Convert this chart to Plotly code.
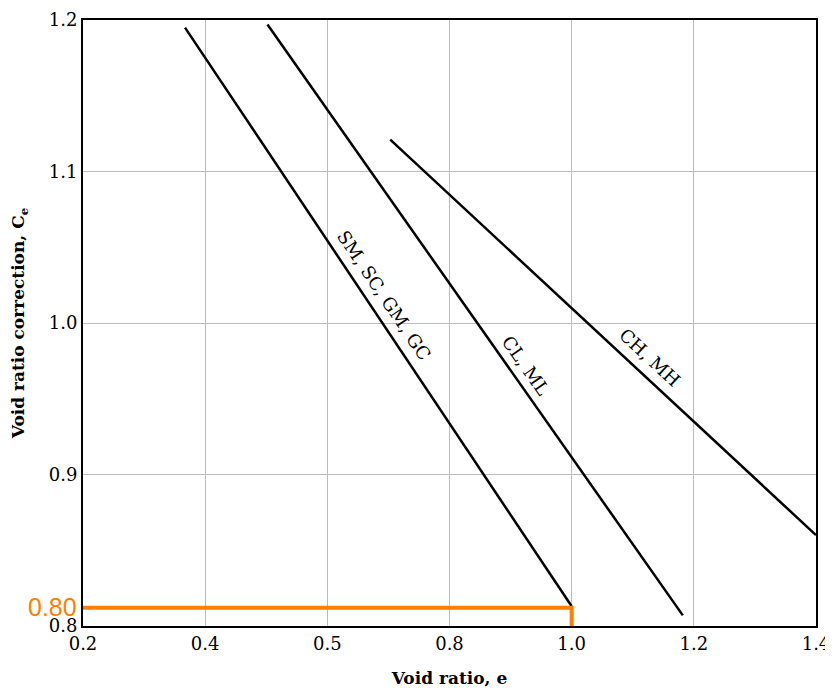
import plotly.graph_objects as go

# Curve end points (void ratio e, correction Ce)
sm_x = [0.367, 1.0]
sm_y = [1.195, 0.813]
cl_x = [0.502, 1.182]
cl_y = [1.197, 0.807]
ch_x = [0.703, 1.4]
ch_y = [1.121, 0.860]

# Highlight (orange) path
hl_x = [0.2, 1.0, 1.0]
hl_y = [0.812, 0.812, 0.8]
hl_label = "0.80"

x_tickvals = [0.2, 0.4, 0.6, 0.8, 1.0, 1.2, 1.4]
x_ticktext = ["0.2", "0.4", "0.5", "0.8", "1.0", "1.2", "1.4"]
y_tickvals = [0.8, 0.9, 1.0, 1.1, 1.2]
y_ticktext = ["0.8", "0.9", "1.0", "1.1", "1.2"]

labels = [
    ("SM, SC, GM, GC", 0.693, 1.018, 56),
    ("CL, ML", 0.925, 0.972, 55),
    ("CH, MH", 1.128, 0.977, 43),
]

SERIF = "DejaVu Serif"

fig = go.Figure()
for xs, ys in [(sm_x, sm_y), (cl_x, cl_y), (ch_x, ch_y)]:
    fig.add_trace(go.Scatter(x=xs, y=ys, mode="lines",
                             line=dict(color="black", width=2.5),
                             showlegend=False, hoverinfo="skip", cliponaxis=False))
fig.add_trace(go.Scatter(x=hl_x, y=hl_y, mode="lines",
                         line=dict(color="#ff8000", width=4),
                         showlegend=False, hoverinfo="skip", cliponaxis=False))

for text, x, y, ang in labels:
    fig.add_annotation(x=x, y=y, text=text, textangle=ang, showarrow=False,
                       font=dict(family=SERIF, size=18, color="black"))

fig.add_annotation(x=0.2, y=hl_y[0], text=hl_label, showarrow=False,
                   xanchor="right", xshift=-4, yshift=1,
                   font=dict(family="Liberation Sans, Arial", size=25, color="#ff8000"))

fig.update_xaxes(range=[0.2, 1.4], tickvals=x_tickvals, ticktext=x_ticktext,
                 showgrid=True, gridcolor="#bbbbbb", gridwidth=1,
                 showline=True, linecolor="black", linewidth=2, mirror=True,
                 ticks="", zeroline=False, automargin=False,
                 title=dict(text="<b>Void ratio, e</b>", standoff=20,
                            font=dict(family=SERIF, size=17, color="black")),
                 tickfont=dict(family=SERIF, size=18, color="black"))
fig.update_yaxes(range=[0.8, 1.2], tickvals=y_tickvals, ticktext=y_ticktext,
                 showgrid=True, gridcolor="#bbbbbb", gridwidth=1,
                 showline=True, linecolor="black", linewidth=2, mirror=True,
                 ticks="", zeroline=False, automargin=False,
                 title=dict(text="<b>Void ratio correction, C<sub>e</sub></b>", standoff=22,
                            font=dict(family=SERIF, size=17, color="black")),
                 tickfont=dict(family=SERIF, size=18, color="black"))

fig.update_layout(width=833, height=691,
                  margin=dict(l=75, r=25, t=12, b=73, autoexpand=False),
                  plot_bgcolor="white", paper_bgcolor="white")

fig.write_html("out.html")
